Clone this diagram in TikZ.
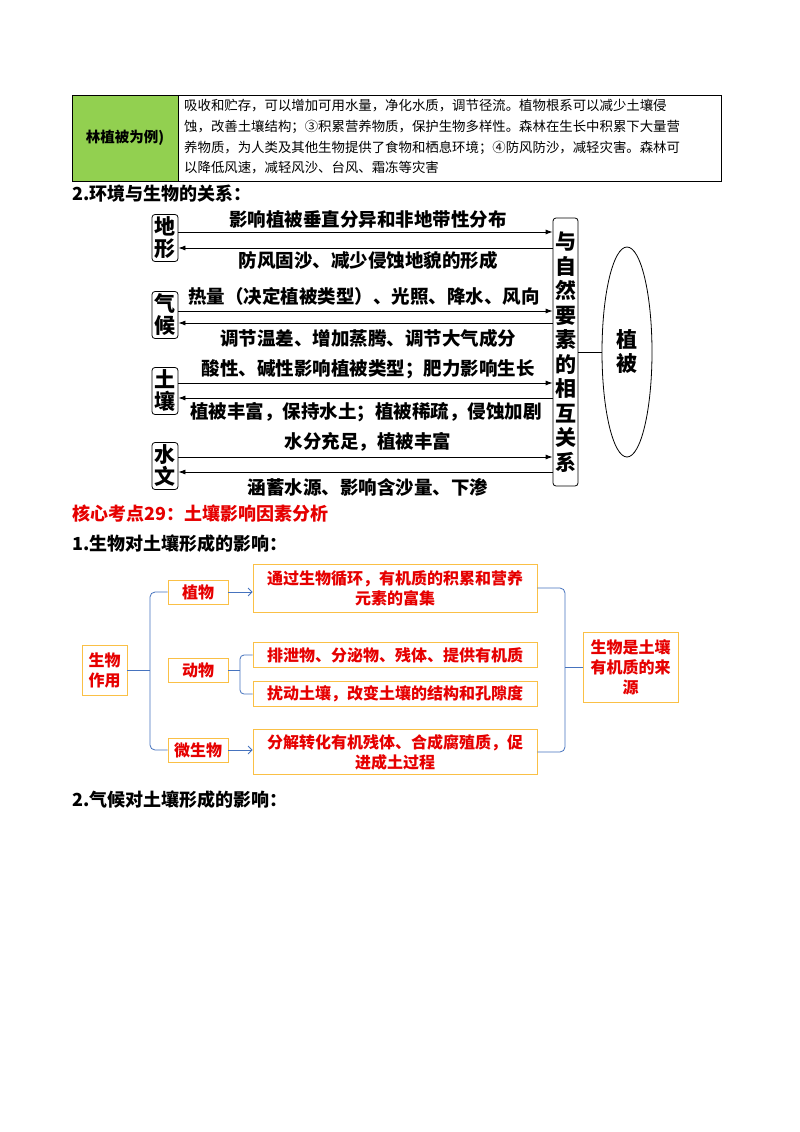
\documentclass[tikz,border=0pt]{standalone}
\usepackage{fontspec}
\setmainfont{Liberation Serif}
\newfontfamily\cjk{Noto Sans CJK SC}
\usetikzlibrary{shapes.geometric,arrows.meta}
\definecolor{grn}{RGB}{146,208,80}
\definecolor{org}{RGB}{250,192,70}
\definecolor{myred}{RGB}{230,0,0}
\definecolor{blu}{RGB}{70,115,190}
\begin{document}
\begin{tikzpicture}[x=1pt,y=-1pt,
 tl/.style={anchor=west,inner sep=0pt,font=\cjk\fontsize{13.4}{15}\selectfont},
 lbox/.style={draw,thick,rounded corners=3pt,inner sep=0pt,minimum width=26pt,minimum height=47pt,align=center,font=\cjk\bfseries\fontsize{21}{22}\selectfont},
 lab/.style={inner sep=0pt,font=\cjk\bfseries\fontsize{18.5}{20}\selectfont},
 ar/.style={-{Latex[length=7pt,width=5pt]},thick},
 ob/.style={draw=org,thick,fill=white,inner sep=0pt,align=center,text=myred,font=\cjk\bfseries\fontsize{16}{20}\selectfont},
 bl/.style={draw=blu,thick},
 ha/.style={bl,-{Straight Barb[length=4pt]}},
 hd/.style={anchor=west,inner sep=0pt,font=\cjk\bfseries\fontsize{18}{20}\selectfont}]
\useasboundingbox (0,0) rectangle (800,1132);
\fill[white] (0,0) rectangle (800,1132);
% table
\fill[grn] (72,95) rectangle (178,181);
\draw (72,95) rectangle (721,181);
\draw (178,95) -- (178,181);
\node[inner sep=0pt,font=\cjk\bfseries\fontsize{14.5}{16}\selectfont] (tl0) at (125,138) {林植被为例)};
\node[tl] (t1) at (184,106) {吸收和贮存，可以增加可用水量，净化水质，调节径流。植物根系可以减少土壤侵};
\node[tl] (t2) at (184,127) {蚀，改善土壤结构；③积累营养物质，保护生物多样性。森林在生长中积累下大量营};
\node[tl] (t3) at (184,148) {养物质，为人类及其他生物提供了食物和栖息环境；④防风防沙，减轻灾害。森林可};
\node[tl] (t4) at (184,168) {以降低风速，减轻风沙、台风、霜冻等灾害};
\node[hd] (h2) at (72,194) {2.环境与生物的关系：};
% diagram 1
\node[lbox] (dx) at (165,238) {地\\形};
\node[lbox] (qh) at (165,315) {气\\候};
\node[lbox] (tr) at (165,391) {土\\壤};
\node[lbox] (sw) at (165,466) {水\\文};
\node[draw,thick,rounded corners=3pt,minimum width=25pt,minimum height=268pt,inner sep=0pt,text width=22pt,align=center,font=\cjk\bfseries\fontsize{21}{24.5}\selectfont] (rel) at (565.5,352) {与\\自\\然\\要\\素\\的\\相\\互\\关\\系};
\node[draw,thick,ellipse,minimum width=50pt,minimum height=210pt,inner sep=0pt,align=center,font=\cjk\bfseries\fontsize{21}{24}\selectfont] (zb) at (627,352) {植\\被};
\draw[thick] (rel.east) -- (zb.west);
\foreach \n/\a/\b in {dx/232/248,qh/311/323,tr/383/398,sw/457/472}{
 \draw[ar] (\n.east|-0,\a) -- (rel.west|-0,\a);
 \draw[ar] (rel.west|-0,\b) -- (\n.east|-0,\b);
}
\node[lab] (l1) at (368,219) {影响植被垂直分异和非地带性分布};
\node[lab] (l2) at (368,260) {防风固沙、减少侵蚀地貌的形成};
\node[lab] (l3) at (364,296) {热量（决定植被类型）、光照、降水、风向};
\node[lab] (l4) at (368,338) {调节温差、增加蒸腾、调节大气成分};
\node[lab] (l5) at (368,369) {酸性、碱性影响植被类型；肥力影响生长};
\node[lab] (l6) at (366,412) {植被丰富，保持水土；植被稀疏，侵蚀加剧};
\node[lab] (l7) at (368,442) {水分充足，植被丰富};
\node[lab] (l8) at (368,487) {涵蓄水源、影响含沙量、下渗};
% headings
\node[hd,text=myred] (h3) at (72,514) {核心考点29：土壤影响因素分析};
\node[hd] (h4) at (72,544) {1.生物对土壤形成的影响：};
\node[hd] (h5) at (72,800) {2.气候对土壤形成的影响：};
% diagram 2
\node[ob,minimum width=45pt,minimum height=50pt] (swzy) at (104.5,670) {生物\\作用};
\node[ob,minimum width=60pt,minimum height=24pt] (zw) at (198,592) {植物};
\node[ob,minimum width=60pt,minimum height=24pt] (dw) at (198,670) {动物};
\node[ob,minimum width=60pt,minimum height=24pt] (wsw) at (198,750) {微生物};
\node[ob,minimum width=284pt,minimum height=48pt] (b1) at (395,588) {通过生物循环，有机质的积累和营养\\元素的富集};
\node[ob,minimum width=284pt,minimum height=25pt] (b2) at (395,655) {排泄物、分泌物、残体、提供有机质};
\node[ob,minimum width=284pt,minimum height=25pt] (b3) at (395,694) {扰动土壤，改变土壤的结构和孔隙度};
\node[ob,minimum width=284pt,minimum height=45pt] (b4) at (395,752) {分解转化有机残体、合成腐殖质，促\\进成土过程};
\node[ob,minimum width=95pt,minimum height=70pt] (res) at (630.5,667) {生物是土壤\\有机质的来\\源};
\coordinate (lb) at (150,670);
\draw[bl,rounded corners=5pt] (zw.west) -| (lb) |- (wsw.west);
\draw[bl] (swzy.east) -- (lb);
\draw[ha] (zw.east) -- (b1.west|-zw.east);
\draw[ha] (wsw.east) -- (b4.west|-wsw.east);
\coordinate (db) at (240,670);
\draw[bl,rounded corners=4pt] (b2.west) -| (db) |- (b3.west);
\draw[bl] (dw.east) -- (db);
\coordinate (rb) at (565,667);
\draw[bl,rounded corners=5pt] (b1.east) -| (rb) |- (b4.east);
\draw[bl] (rb) -- (res.west);
\end{tikzpicture}
\end{document}
